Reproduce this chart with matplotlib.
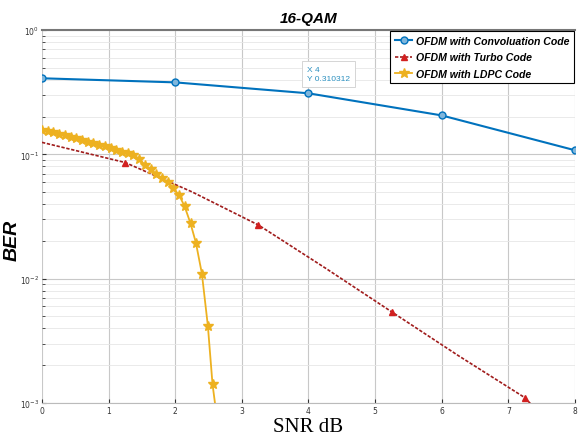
import numpy as np
import matplotlib.pyplot as plt
from matplotlib.ticker import LogLocator, NullFormatter

# data
snr_conv = [0, 2, 4, 6, 8]
ber_conv = [0.41, 0.38, 0.310312, 0.206, 0.108]

snr_turbo = [0, 1.25, 2.25, 3.25, 4.25, 5.25, 6.25, 7.25, 7.4]
ber_turbo = [0.125, 0.086, 0.050, 0.027, 0.0122, 0.0054, 0.0024, 0.0011, 0.0009]
turbo_marks = [1, 3, 5, 7]

snr_ldpc = [0, 0.09, 0.17, 0.26, 0.34, 0.43, 0.51, 0.6, 0.69, 0.77, 0.86, 0.94,
            1.03, 1.11, 1.2, 1.29, 1.37, 1.46, 1.54, 1.63, 1.71, 1.8, 1.89, 1.97,
            2.06, 2.14, 2.23, 2.31, 2.4, 2.49, 2.56, 2.62]
ber_ldpc = [0.158, 0.155, 0.151, 0.147, 0.144, 0.139, 0.136, 0.131, 0.127, 0.123,
            0.119, 0.116, 0.112, 0.109, 0.105, 0.102, 0.0989, 0.0923, 0.0828,
            0.0759, 0.0700, 0.0646, 0.0596, 0.0537, 0.0468, 0.0383, 0.0278,
            0.0195, 0.0110, 0.00417, 0.00141, 0.0008]

blue = '#0072BD'
red = '#D22020'
gold = '#EDB120'

fig = plt.figure(figsize=(5.79, 4.39), dpi=100)
ax = fig.add_axes([0.0725, 0.080, 0.9205, 0.849])

ax.semilogy(snr_conv, ber_conv, color=blue, lw=1.5, marker='o', ms=5,
            mfc='#7fb6dc', mec=blue, label='OFDM with Convoluation Code')
ax.semilogy(snr_turbo, ber_turbo, color='#a01c1c', lw=1.2, ls=(0, (2, 1)),
            marker='^', ms=5, mfc=red, mec=red, markevery=turbo_marks,
            label='OFDM with Turbo Code')
ax.semilogy(snr_ldpc, ber_ldpc, color=gold, lw=1.3, marker='*', ms=7,
            mfc=gold, mec=gold, label='OFDM with LDPC Code')

ax.set_xlim(0, 8)
ax.set_ylim(1e-3, 1)
ax.set_xticks(range(9))
ax.yaxis.set_major_locator(LogLocator(base=10, numticks=10))
ax.yaxis.set_minor_locator(LogLocator(base=10, subs=np.arange(2, 10), numticks=10))
ax.yaxis.set_minor_formatter(NullFormatter())
ax.grid(True, which='major', color='#c8c8c8', lw=0.8)
ax.grid(True, which='minor', axis='y', color='#e6e6e6', lw=0.6)
ax.tick_params(which='both', direction='in', labelsize=5.5, colors='#333333',
               length=3, pad=2)
ax.tick_params(which='minor', length=2)
for s in ['left', 'right']:
    ax.spines[s].set_visible(False)
ax.spines['top'].set_color('#777777')
ax.spines['top'].set_linewidth(1.5)
ax.spines['bottom'].set_color('#bbbbbb')

ax.set_title('16-QAM', fontsize=11, fontweight='bold', style='italic',
             family='Liberation Sans', pad=6)
ax.set_xlabel('SNR dB', fontsize=15, family='Liberation Serif', labelpad=2)
ax.set_ylabel('BER', fontsize=14, fontweight='bold', style='italic',
              family='Liberation Sans')
ax.yaxis.set_label_coords(-0.04, 0.44)

# data tip
ax.annotate('X 4\nY 0.310312', xy=(4, 0.310312), xytext=(3.98, 0.40),
            fontsize=6, color='#2a8fbf', family='Liberation Sans',
            linespacing=1.4,
            bbox=dict(boxstyle='square,pad=0.6', fc='white', ec='#cfcfcf', lw=0.6))

leg = ax.legend(loc='upper right', borderaxespad=0.1, fancybox=False,
                framealpha=1, edgecolor='black', handlelength=1.6,
                labelspacing=0.6, borderpad=0.45, handletextpad=0.35,
                prop=dict(family='Liberation Sans', weight='bold',
                          style='italic', size=7.6))
leg.get_frame().set_linewidth(0.8)

fig.savefig('out.png', dpi=100)
